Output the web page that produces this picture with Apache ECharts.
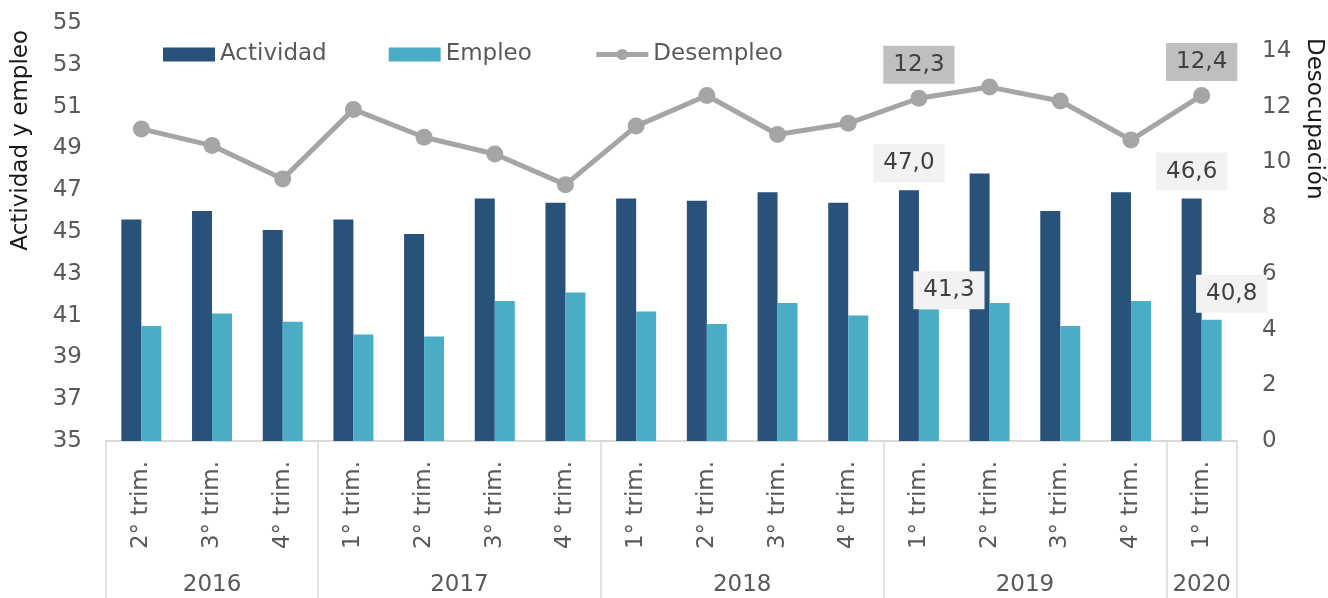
<!DOCTYPE html>
<html>
<head>
<meta charset="utf-8">
<script src="https://cdn.jsdelivr.net/npm/echarts@6/dist/echarts.min.js"></script>
<style>
  html, body { margin: 0; padding: 0; background: #fff; }
  #chart { width: 1328px; height: 598px; }
</style>
</head>
<body>
<div id="chart"></div>
<script>
// datos
const quarters = ['2° trim.', '3° trim.', '4° trim.',
  '1° trim.', '2° trim.', '3° trim.', '4° trim.',
  '1° trim.', '2° trim.', '3° trim.', '4° trim.',
  '1° trim.', '2° trim.', '3° trim.', '4° trim.',
  '1° trim.'];
const years = ['2016', '2017', '2018', '2019', '2020'];
const quartersPerYear = [3, 4, 4, 4, 1];
const actividad = [45.6, 46.0, 45.1, 45.6, 44.9, 46.6, 46.4, 46.6, 46.5, 46.9, 46.4, 47.0, 47.8, 46.0, 46.9, 46.6];
const empleo = [40.5, 41.1, 40.7, 40.1, 40.0, 41.7, 42.1, 41.2, 40.6, 41.6, 41.0, 41.3, 41.6, 40.5, 41.7, 40.8];
const desempleo = [11.2, 10.6, 9.4, 11.9, 10.9, 10.3, 9.2, 11.3, 12.4, 11.0, 11.4, 12.3, 12.7, 12.2, 10.8, 12.4];
const etiquetados = [11, 15]; // puntos con etiqueta de valor

const FONT = 'DejaVu Sans';
const GRIS = '#595959';

// límites y centros de cada año sobre el eje
let acc = 0;
const limites = [0];
const centros = [];
quartersPerYear.forEach(n => {
  centros.push(acc + n / 2);
  acc += n;
  limites.push(acc);
});

const fmt = v => v.toFixed(1).replace('.', ',');

const etiqueta = (bg, extra) => Object.assign({
  show: true,
  position: 'top',
  distance: 7,
  formatter: p => fmt(p.value),
  fontFamily: FONT,
  fontSize: 23,
  lineHeight: 26,
  color: '#404040',
  backgroundColor: bg,
  padding: [6, 10]
}, extra || {});

const conEtiqueta = (arr, bg, extra) => arr.map((v, i) =>
  etiquetados.includes(i) ? { value: v, label: etiqueta(bg, extra) } : v);

const chart = echarts.init(document.getElementById('chart'));

chart.setOption({
  animation: false,
  textStyle: { fontFamily: FONT },
  grid: { left: 106, right: 91, top: 23, bottom: 157 },
  legend: {
    left: 158,
    top: 38,
    itemWidth: 52,
    itemHeight: 14,
    itemGap: 62,
    textStyle: { fontFamily: FONT, fontSize: 23, color: GRIS },
    data: [
      { name: 'Actividad', icon: 'rect' },
      { name: 'Empleo', icon: 'rect' },
      { name: 'Desempleo', lineStyle: { width: 5, color: '#a5a5a5' } }
    ]
  },
  xAxis: [
    {
      type: 'category',
      data: quarters,
      axisLine: { lineStyle: { color: '#d9d9d9', width: 2 } },
      axisTick: { show: false },
      axisLabel: {
        rotate: 90,
        margin: 20,
        fontFamily: FONT,
        fontSize: 23,
        color: GRIS
      }
    },
    {
      type: 'value',
      position: 'bottom',
      min: 0,
      max: quarters.length,
      axisLine: { show: false },
      splitLine: { show: false },
      axisTick: {
        show: true,
        customValues: limites,
        length: 157,
        lineStyle: { color: '#d9d9d9', width: 1.5 }
      },
      axisLabel: {
        customValues: centros,
        margin: 133,
        fontFamily: FONT,
        fontSize: 23,
        color: GRIS,
        formatter: v => years[centros.indexOf(v)]
      }
    }
  ],
  yAxis: [
    {
      type: 'value',
      min: 35,
      max: 55,
      interval: 2,
      splitLine: { show: false },
      axisLine: { show: false },
      axisTick: { show: false },
      axisLabel: { margin: 24, fontFamily: FONT, fontSize: 23, color: GRIS }
    },
    {
      type: 'value',
      min: 0,
      max: 15,
      interval: 2,
      splitLine: { show: false },
      axisLine: { show: false },
      axisTick: { show: false },
      axisLabel: {
        margin: 25,
        fontFamily: FONT,
        fontSize: 23,
        color: GRIS,
        showMaxLabel: false,
        formatter: v => (v > 14 ? '' : v)
      }
    }
  ],
  series: [
    {
      name: 'Actividad',
      type: 'bar',
      barWidth: 20,
      barGap: '0%',
      itemStyle: { color: '#29527a' },
      data: conEtiqueta(actividad, '#f2f2f2', { distance: 8 })
    },
    {
      name: 'Empleo',
      type: 'bar',
      barWidth: 20,
      itemStyle: { color: '#4bacc6' },
      data: empleo.map((v, i) => {
        if (!etiquetados.includes(i)) return v;
        return { value: v, label: etiqueta('#f2f2f2', { offset: [20, 0], distance: i === 11 ? 0 : 7 }) };
      })
    },
    {
      name: 'Desempleo',
      type: 'line',
      yAxisIndex: 1,
      symbol: 'circle',
      symbolSize: 17,
      lineStyle: { color: '#a5a5a5', width: 5 },
      itemStyle: { color: '#a5a5a5' },
      z: 5,
      data: conEtiqueta(desempleo, '#bfbfbf', { distance: 6 })
    }
  ],
  graphic: [
    {
      type: 'text',
      left: 10,
      top: 30,
      rotation: Math.PI / 2,
      style: { text: 'Actividad y empleo', fontFamily: FONT, fontSize: 23, fill: '#1a1a1a' }
    },
    {
      type: 'text',
      left: 1302,
      top: 38,
      rotation: -Math.PI / 2,
      style: { text: 'Desocupación', fontFamily: FONT, fontSize: 23, fill: '#1a1a1a' }
    }
  ]
});
</script>
</body>
</html>
